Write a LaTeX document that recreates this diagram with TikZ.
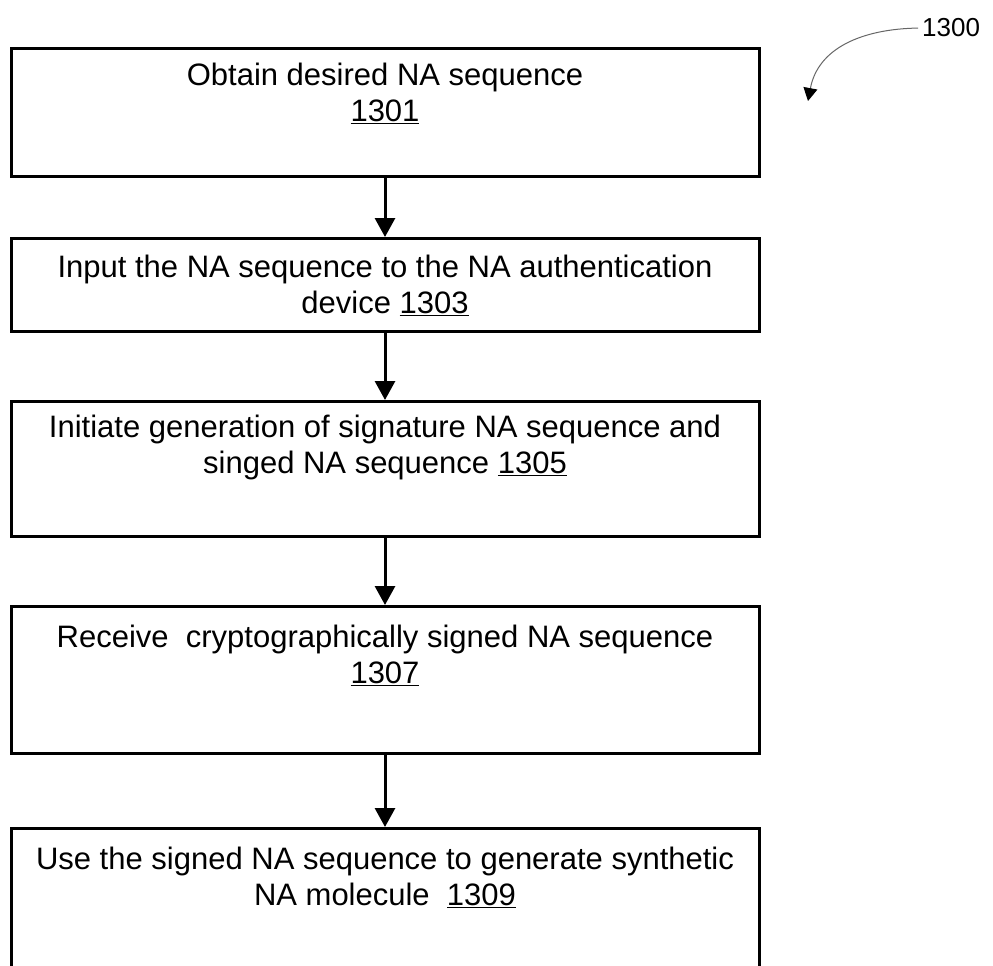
\documentclass[tikz,border=0pt]{standalone}
\usepackage{fontspec}
\setmainfont{Liberation Sans}
\usetikzlibrary{arrows.meta}
\begin{document}
\begin{tikzpicture}[x=1pt,y=-1pt,
  stepbox/.style={draw, line width=3pt, minimum width=748pt, anchor=north, inner sep=0pt},
  steptext/.style={anchor=north, align=center, inner sep=0pt, font=\fontsize{31}{36}\selectfont},
  flow/.style={line width=3pt, -{Triangle[width=20pt,length=19pt]}},
  refline/.style={draw=black!60, line width=1pt, -{Triangle[width=14pt,length=13pt,color=black]}}]
\clip (0,0) rectangle (993,966);

% process boxes
\node[stepbox, minimum height=128pt] (b1) at (385,47) {};
\node[stepbox, minimum height=93pt]  (b2) at (385,237) {};
\node[stepbox, minimum height=135pt] (b3) at (385,400) {};
\node[stepbox, minimum height=147pt] (b4) at (385,605) {};
\node[stepbox, minimum height=175pt] (b5) at (385,827) {};

% box texts
\node[steptext] (t1) at (385,63) {Obtain desired NA sequence\\\underline{1301}};
\node[steptext] (t2) at (385,255) {Input the NA sequence to the NA authentication\\device \underline{1303}};
\node[steptext] (t3) at (385,415) {Initiate generation of signature NA sequence and\\singed NA sequence \underline{1305}};
\node[steptext] (t4) at (385,625) {Receive\ \ cryptographically signed NA sequence\\\underline{1307}};
\node[steptext] (t5) at (385,847) {Use the signed NA sequence to generate synthetic\\NA molecule\ \ \underline{1309}};

% flow arrows
\draw[flow] (b1.south) -- (b2.north);
\draw[flow] (b2.south) -- (b3.north);
\draw[flow] (b3.south) -- (b4.north);
\draw[flow] (b4.south) -- (b5.north);

% figure reference
\node[anchor=base west, inner sep=0pt, font=\fontsize{26}{30}\selectfont] (ref) at (922,37) {1300};
\coordinate (reftip) at (808,101);
\draw[refline] ([xshift=-4pt]ref.west) .. controls (862,29) and (818,48) .. (reftip);
\end{tikzpicture}
\end{document}
